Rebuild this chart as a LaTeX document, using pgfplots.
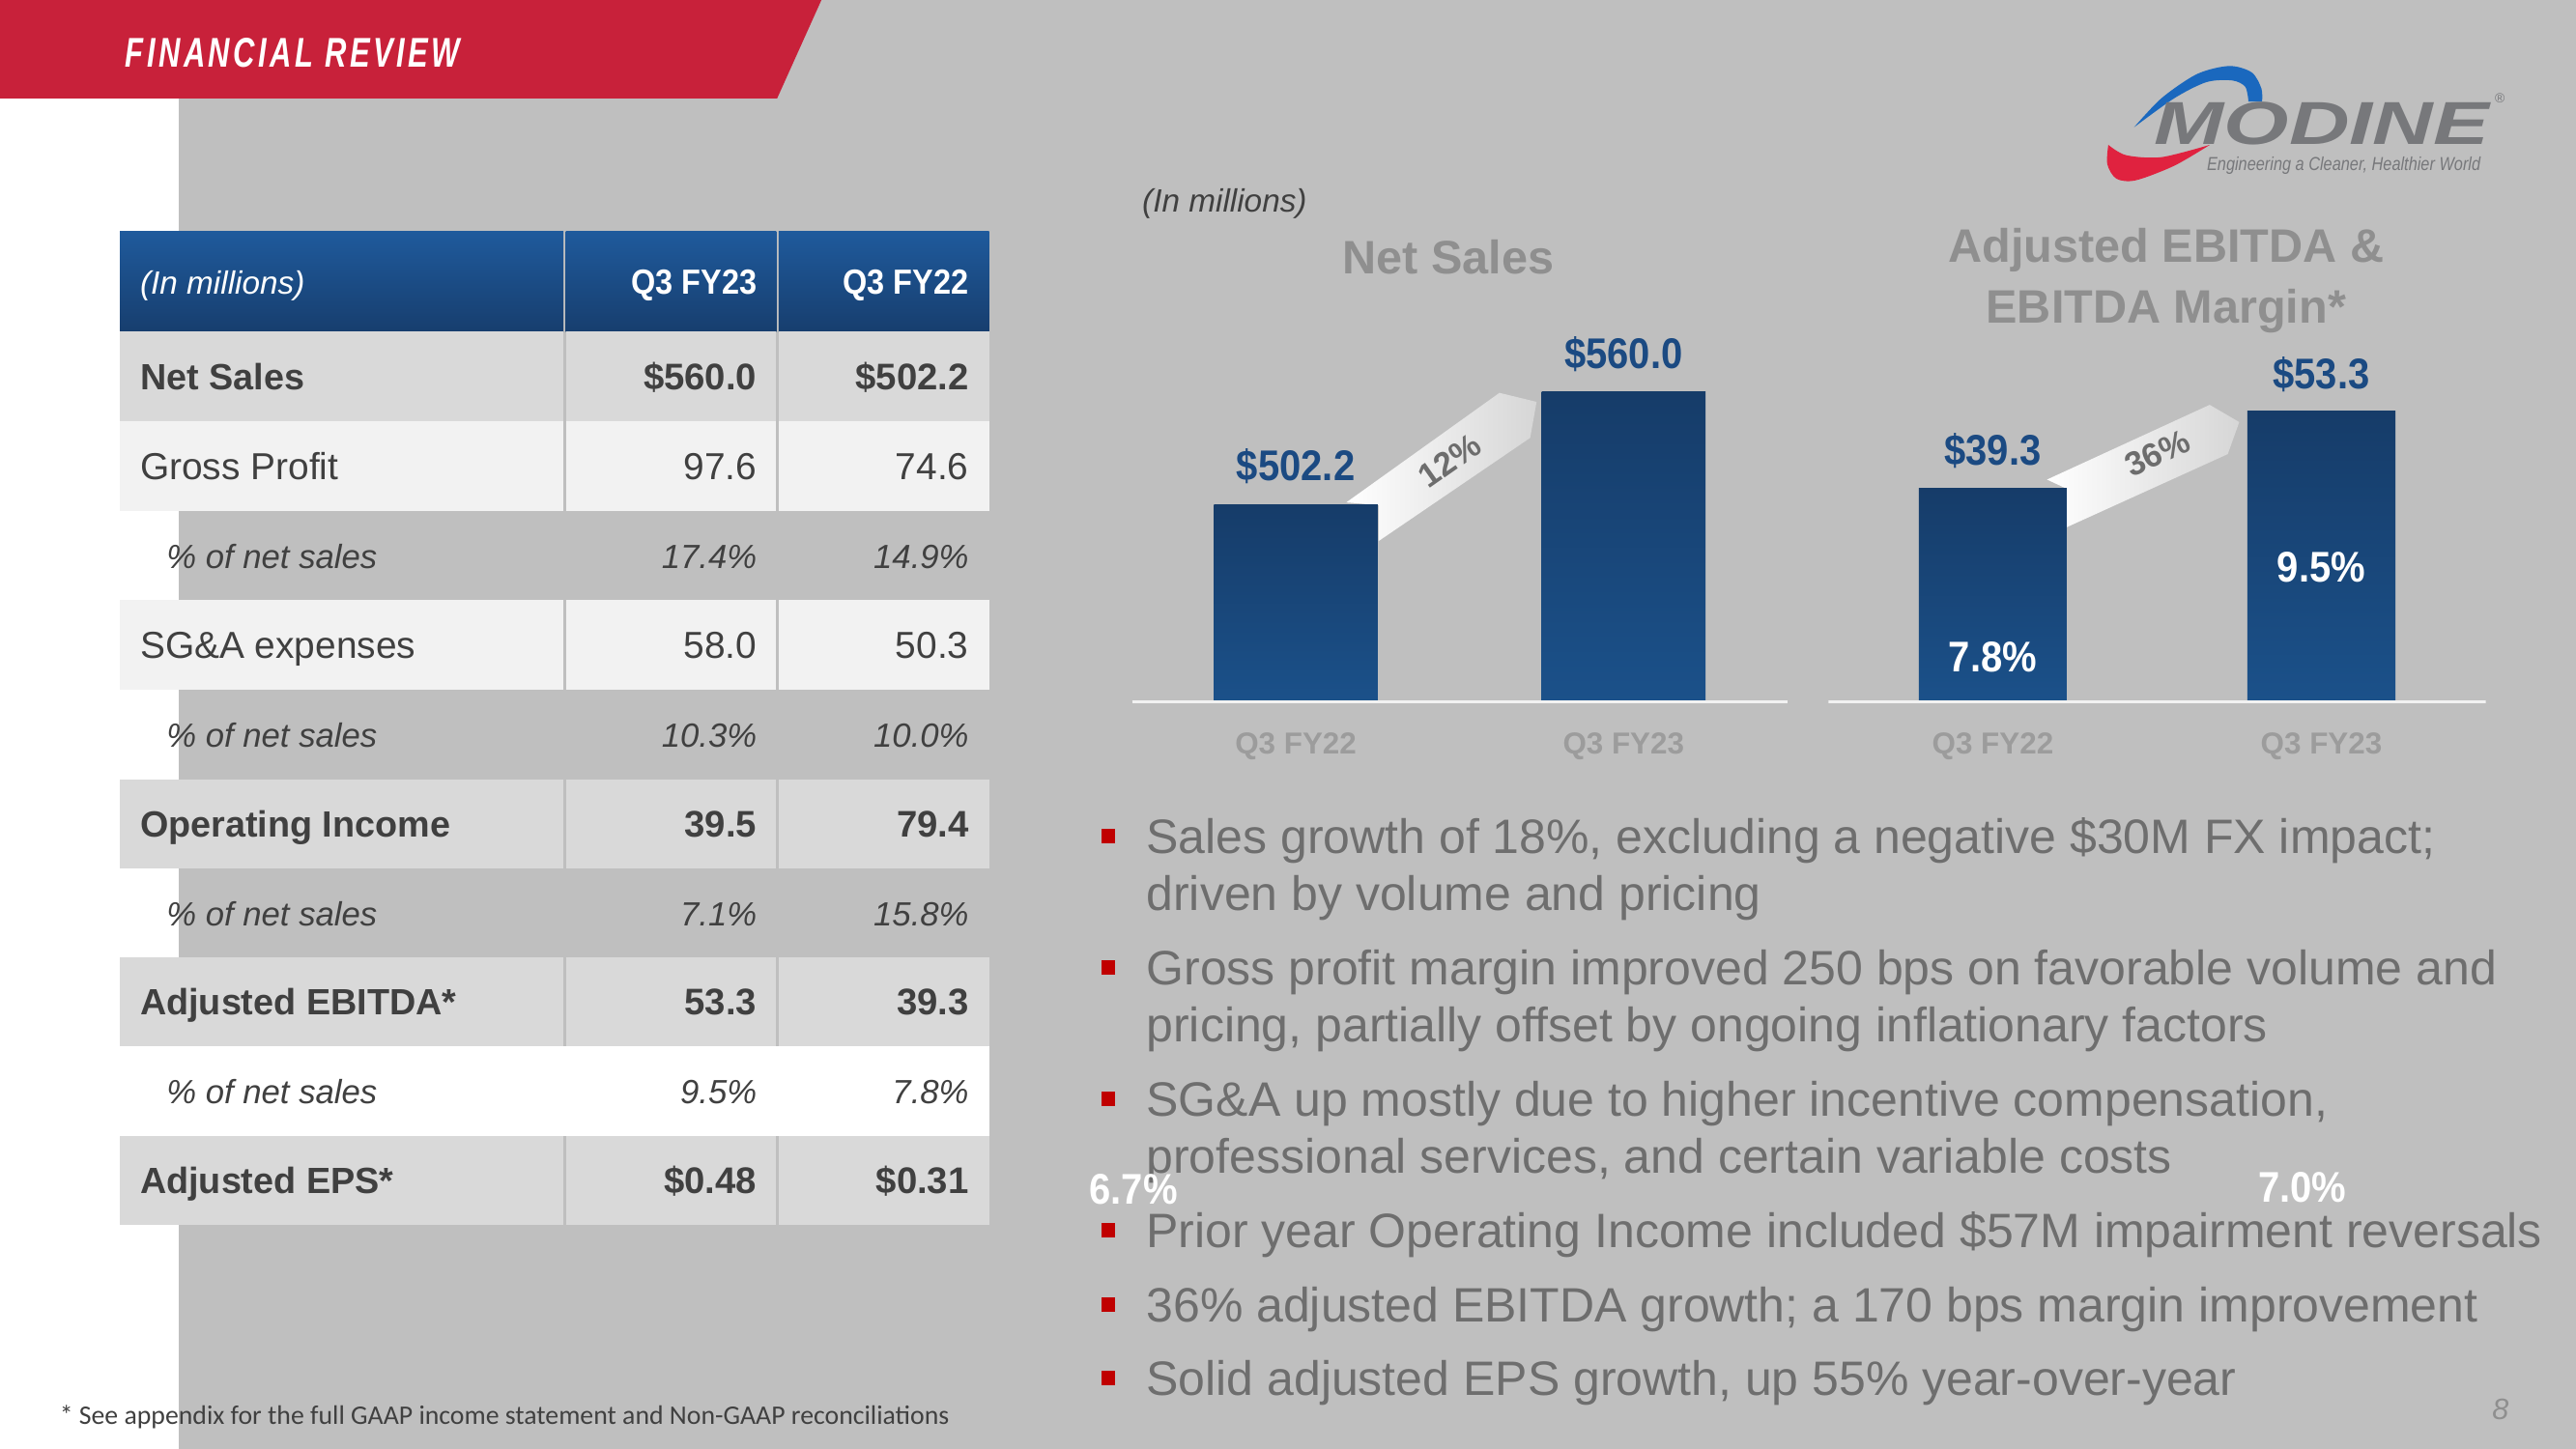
\documentclass[border=0pt]{standalone}
\usepackage{pgfplots}
\pgfplotsset{compat=1.18}
\usepackage{fontspec}
\setmainfont{Liberation Sans}
\newfontfamily\condfont{Liberation Sans}[FakeStretch=0.9]
\newfontfamily\logofont{Liberation Sans}[FakeStretch=1.38]
\newfontfamily\tagfont{Liberation Sans}[FakeStretch=0.84]
\newfontfamily\banfont{Liberation Sans}[FakeStretch=0.72,LetterSpace=8]
\newfontfamily\footfont{Carlito}
\newcommand\fs[1]{\fontsize{#1}{#1}\selectfont}
\definecolor{bgray}{HTML}{BFBFBF}
\definecolor{banred}{HTML}{C8213A}
\definecolor{rowdark}{HTML}{D9D9D9}
\definecolor{rowlight}{HTML}{F2F2F2}
\definecolor{tabtext}{HTML}{404040}
\definecolor{hdtop}{HTML}{1F5A9C}
\definecolor{hdbot}{HTML}{173E6E}
\definecolor{bartop}{HTML}{163C69}
\definecolor{barbot}{HTML}{1B518A}
\definecolor{lblblue}{HTML}{1B4A82}
\definecolor{titlegray}{HTML}{8F8F8F}
\definecolor{tickgray}{HTML}{9C9C9C}
\definecolor{bullgray}{HTML}{6E6E6E}
\definecolor{bullred}{HTML}{C00000}
\definecolor{logogray}{HTML}{77787B}
\definecolor{logoblue}{HTML}{1A68BE}
\definecolor{logored}{HTML}{E0223F}
\definecolor{bandgray}{HTML}{D6D6D6}
\definecolor{bandtext}{HTML}{6D6D6D}
\definecolor{baseln}{HTML}{F2F2F2}
\begin{document}
\begin{tikzpicture}
\useasboundingbox (0,0) rectangle (960pt,540pt);
\begin{scope}[x=0.6122449pt,y=-0.6122449pt,yshift=540pt]
% background
\fill[bgray] (0,0) rectangle (1568,882);
\fill[white] (0,60) rectangle (108.8,882);
\fill[banred] (0,0) -- (500,0) -- (473,60) -- (0,60) -- cycle;
\node[anchor=base west,inner sep=0,text=white] at (76,41) {\banfont\bfseries\itshape\fs{15.5}FINANCIAL REVIEW};
% logo
\fill[logoblue] plot[smooth] coordinates {(1299,77.5) (1315.7,59.8) (1337.3,45.1) (1356.9,40.2) (1370.6,44.1) (1376.5,53.9) (1376.9,61.8)}
  -- plot[smooth] coordinates {(1368.6,61.8) (1366.7,52.9) (1358.8,49) (1343.1,50) (1323.5,59.8) (1299,77.5)} -- cycle;
\fill[logored] plot[smooth] coordinates {(1345.1,88.2) (1323.5,100.9) (1300,109.8) (1288.2,108.8) (1282.7,100) (1283.3,88.2)}
  -- plot[smooth] coordinates {(1283.3,88.2) (1294.1,94.5) (1315.7,95.7) (1345.1,88.2)} -- cycle;
\node[anchor=base west,inner sep=0,text=logogray] at (1311,88.2) {\logofont\bfseries\itshape\fs{22.6}MODINE};
\node[inner sep=0,text=logogray] at (1521.6,59.8) {\fs{5}\textregistered};
\node[anchor=base west,inner sep=0,text=logogray] at (1343,103.9) {\tagfont\itshape\fs{7}Engineering a Cleaner, Healthier World};
% table header
\foreach \xa/\xb in {73/343, 344.5/472.5, 474/602}
  \shade[top color=hdtop,bottom color=hdbot] (\xa,141) rectangle (\xb,202);
\node[anchor=base west,inner sep=0,text=white] at (85,179) {\itshape\fs{12}(In millions)};
\node[anchor=base east,inner sep=0,text=white] at (461,179) {\condfont\bfseries\fs{13}Q3 FY23};
\node[anchor=base east,inner sep=0,text=white] at (590,179) {\condfont\bfseries\fs{13}Q3 FY22};
% table rows
\foreach \ya/\yb/\col in {202/256.5/rowdark, 256.5/311/rowlight, 365.5/420/rowlight, 474.5/528.5/rowdark, 583/637/rowdark, 691.5/746/rowdark}{
  \fill[\col] (73,\ya) rectangle (343,\yb);
  \fill[\col] (344.5,\ya) rectangle (472.5,\yb);
  \fill[\col] (474,\ya) rectangle (602,\yb);
}
\fill[white] (73,637) rectangle (602,691.5);
% bold rows
\foreach \yy/\lab/\va/\vb in {237.3/Net Sales/\$560.0/\$502.2, 509.5/Operating Income/39.5/79.4, 618/Adjusted EBITDA*/53.3/39.3, 726.8/Adjusted EPS*/\$0.48/\$0.31}{
  \node[anchor=base west,inner sep=0,text=tabtext] at (85,\yy) {\bfseries\fs{13.6}\lab};
  \node[anchor=base east,inner sep=0,text=tabtext] at (461,\yy) {\bfseries\fs{13.8}\va};
  \node[anchor=base east,inner sep=0,text=tabtext] at (590,\yy) {\bfseries\fs{13.8}\vb};
}
% regular rows
\foreach \yy/\lab/\va/\vb in {291.8/Gross Profit/97.6/74.6, 400.8/SG\&A expenses/58.0/50.3}{
  \node[anchor=base west,inner sep=0,text=tabtext] at (85,\yy) {\fs{14}\lab};
  \node[anchor=base east,inner sep=0,text=tabtext] at (461,\yy) {\fs{14}\va};
  \node[anchor=base east,inner sep=0,text=tabtext] at (590,\yy) {\fs{14}\vb};
}
% percent rows
\foreach \yy/\va/\vb in {346/17.4\%/14.9\%, 455/10.3\%/10.0\%, 563.5/7.1\%/15.8\%, 672/9.5\%/7.8\%}{
  \node[anchor=base west,inner sep=0,text=tabtext] at (101,\yy) {\itshape\fs{12.5}\% of net sales};
  \node[anchor=base east,inner sep=0,text=tabtext] at (461,\yy) {\itshape\fs{12.5}\va};
  \node[anchor=base east,inner sep=0,text=tabtext] at (590,\yy) {\itshape\fs{12.5}\vb};
}
% chart texts
\node[anchor=base west,inner sep=0,text=tabtext] at (695,129.4) {\itshape\fs{12}(In millions)};
\node[anchor=base,inner sep=0,text=titlegray] at (881.6,166.7) {\bfseries\fs{17.5}Net Sales};
\node[anchor=base,inner sep=0,text=titlegray] at (1318.5,159.8) {\bfseries\fs{17.5}Adjusted EBITDA \&};
\node[anchor=base,inner sep=0,text=titlegray] at (1318.5,197) {\bfseries\fs{17.5}EBITDA Margin*};
% growth bands
\shade[left color=white,right color=bandgray] (819.5,305.9) -- (912.7,239.2) -- (935.3,244.7) -- (931.4,266.6) -- (839.2,329.4) -- (839.2,307.6) -- cycle;
\node[rotate=35,inner sep=0,text=bandtext] at (882.4,280.4) {\bfseries\fs{12.5}12\%};
\shade[left color=white,right color=bandgray] (1246,292) -- (1345,246.5) -- (1363,257) -- (1356,276.5) -- (1258,321) -- (1258,297.6) -- cycle;
\node[rotate=25,inner sep=0,text=bandtext] at (1313,276) {\bfseries\fs{12.5}36\%};
% bullets
\foreach \yy in {519.6, 599.5, 679.5, 759.5, 805, 849.5}
  \fill[bullred] (670.3,\yy-14.9) rectangle (678.9,\yy-6.3);
\foreach \yy/\txt in {519.6/Sales growth of 18\%{,} excluding a negative \$30M FX impact;,
  554.5/driven by volume and pricing,
  599.5/Gross profit margin improved 250 bps on favorable volume and,
  634.5/pricing{,} partially offset by ongoing inflationary factors,
  679.5/SG\&A up mostly due to higher incentive compensation{,},
  714.5/professional services{,} and certain variable costs,
  759.5/Prior year Operating Income included \$57M impairment reversals,
  805/36\% adjusted EBITDA growth; a 170 bps margin improvement,
  849.5/Solid adjusted EPS growth{,} up 55\% year-over-year}
  \node[anchor=base west,inner sep=0,text=bullgray] at (697.5,\yy) {\fs{18}\txt};
\node[inner sep=0,text=white] at (690,724) {\condfont\bfseries\fs{16}6.7\%};
\node[inner sep=0,text=white] at (1401.5,723) {\condfont\bfseries\fs{16}7.0\%};
% footer
\node[anchor=base west,inner sep=0,text=tabtext] at (36,867) {\footfont\fs{10}* See appendix for the full GAAP income statement and Non-GAAP reconciliations};
\node[inner sep=0,text=titlegray] at (1522,858) {\itshape\fs{11}8};
\end{scope}

% Net Sales chart
\begin{axis}[at={(421.84pt,277.96pt)},anchor=south west,scale only axis,
  width=244.29pt,height=144.92pt,xmin=-0.5,xmax=1.5,ymin=400,ymax=600,
  axis line style={draw=none},ytick=\empty,xtick={0,1},xticklabels={Q3 FY22,Q3 FY23},
  major tick length=0pt,xtick style={draw=none},
  xticklabel style={anchor=base,yshift=-19pt,font=\bfseries\fs{11.3},text=tickgray}]
\addplot[ybar,bar width=0.5,bar shift=0pt,draw=none,top color=bartop,bottom color=barbot] coordinates {(0,502.2)};
\addplot[ybar,bar width=0.5,bar shift=0pt,draw=none,top color=bartop,bottom color=barbot] coordinates {(1,560.0)};
\draw[draw=baseln,line width=2.2pt] (rel axis cs:0,0) -- (rel axis cs:1,0);
\node[anchor=base,inner sep=0,text=lblblue,yshift=8.9pt] at (axis cs:0,502.2) {\condfont\bfseries\fs{16}\$502.2};
\node[anchor=base,inner sep=0,text=lblblue,yshift=8.9pt] at (axis cs:1,560.0) {\condfont\bfseries\fs{16}\$560.0};
\end{axis}

% Adjusted EBITDA chart
\begin{axis}[at={(681.43pt,277.96pt)},anchor=south west,scale only axis,
  width=244.90pt,height=142.72pt,xmin=-0.5,xmax=1.5,ymin=0,ymax=70,
  axis line style={draw=none},ytick=\empty,xtick={0,1},xticklabels={Q3 FY22,Q3 FY23},
  major tick length=0pt,xtick style={draw=none},
  xticklabel style={anchor=base,yshift=-19pt,font=\bfseries\fs{11.3},text=tickgray}]
\addplot[ybar,bar width=0.45,bar shift=0pt,draw=none,top color=bartop,bottom color=barbot] coordinates {(0,39.3)};
\addplot[ybar,bar width=0.45,bar shift=0pt,draw=none,top color=bartop,bottom color=barbot] coordinates {(1,53.3)};
\draw[draw=baseln,line width=2.2pt] (rel axis cs:0,0) -- (rel axis cs:1,0);
\node[anchor=base,inner sep=0,text=lblblue,yshift=8.6pt] at (axis cs:0,39.3) {\condfont\bfseries\fs{16}\$39.3};
\node[anchor=base,inner sep=0,text=lblblue,yshift=8.6pt] at (axis cs:1,53.3) {\condfont\bfseries\fs{16}\$53.3};
\node[anchor=base,inner sep=0,text=white] at (axis cs:0,5.6) {\condfont\bfseries\fs{16}7.8\%};
\node[anchor=base,inner sep=0,text=white] at (axis cs:1,22.1) {\condfont\bfseries\fs{16}9.5\%};
\end{axis}
\end{tikzpicture}
\end{document}
